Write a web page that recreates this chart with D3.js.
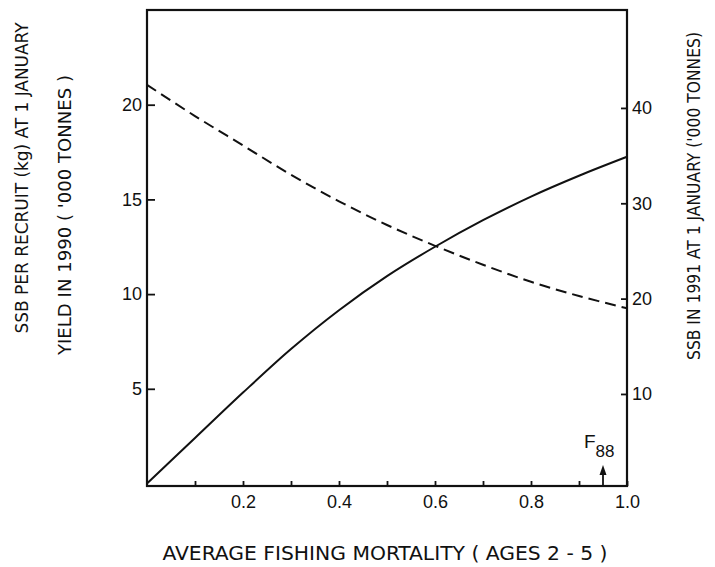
<!DOCTYPE html>
<html>
<head>
<meta charset="utf-8">
<script src="https://cdn.jsdelivr.net/npm/d3@7/dist/d3.min.js"></script>
<style>
  html, body { margin: 0; padding: 0; background: #fff; }
  svg { display: block; }
  text { font-family: "Liberation Sans", Arial, sans-serif; fill: #111; }
  .title { font-family: "Liberation Sans Narrow", "DejaVu Sans Condensed", "Liberation Sans", sans-serif; }
</style>
</head>
<body>
<svg id="chart" width="715" height="567"></svg>
<script>
// Fishing mortality (ages 2-5)
const mortality = [0, 0.1, 0.2, 0.3, 0.4, 0.5, 0.6, 0.7, 0.8, 0.9, 1.0];
// Yield in 1990 ('000 tonnes) — solid line, left axis
const yield1990 = [0, 2.4, 4.8, 7.1, 9.15, 10.95, 12.5, 13.9, 15.15, 16.25, 17.25];
// SSB per recruit (kg) at 1 January — dashed line, left axis
const ssbPerRecruit = [21.05, 19.4, 17.85, 16.3, 14.9, 13.65, 12.55, 11.55, 10.65, 9.9, 9.25];

const leftTicks = [5, 10, 15, 20];
const rightTicks = [10, 20, 30, 40];
const xTicks = [0.1, 0.2, 0.3, 0.4, 0.5, 0.6, 0.7, 0.8, 0.9, 1.0];
const xLabelled = [0.2, 0.4, 0.6, 0.8, 1.0];
const f88 = 0.95;

const leftTitle1 = "SSB PER RECRUIT (kg) AT 1 JANUARY";
const leftTitle2 = "YIELD IN 1990 ( '000 TONNES )";
const rightTitle = "SSB IN 1991 AT 1 JANUARY ('000 TONNES)";
const xTitle = "AVERAGE FISHING MORTALITY ( AGES 2 - 5 )";

const svg = d3.select("#chart");
const plot = { left: 147, right: 627, top: 10, bottom: 486 };

const x = d3.scaleLinear().domain([0, 1]).range([plot.left, plot.right]);
const yL = d3.scaleLinear().domain([0, 25]).range([483.5, plot.top]);
const yR = d3.scaleLinear().domain([0, 50]).range([489.3, 12.6]);

// frame
svg.append("rect")
  .attr("x", plot.left).attr("y", plot.top)
  .attr("width", plot.right - plot.left).attr("height", plot.bottom - plot.top)
  .attr("fill", "none").attr("stroke", "#111").attr("stroke-width", 2.2);

// left axis, ticks pointing inward
const gL = svg.append("g").attr("transform", `translate(${plot.left},0)`)
  .call(d3.axisLeft(yL).tickValues(leftTicks).tickSize(-8).tickPadding(5).tickFormat(d3.format("d")));
// right axis
const gR = svg.append("g").attr("transform", `translate(${plot.right},0)`)
  .call(d3.axisRight(yR).tickValues(rightTicks).tickSize(-6).tickPadding(5).tickFormat(d3.format("d")));
// bottom axis
const gB = svg.append("g").attr("transform", `translate(0,${plot.bottom})`)
  .call(d3.axisBottom(x).tickValues(xTicks).tickSize(-5).tickPadding(9)
    .tickFormat(d => xLabelled.some(v => Math.abs(v - d) < 1e-9) ? d3.format(".1f")(d) : ""));

[gL, gR, gB].forEach(g => {
  g.select(".domain").remove();
  g.selectAll(".tick line").attr("stroke", "#111").attr("stroke-width", 1.8);
  g.selectAll(".tick text").attr("font-size", 18).attr("fill", "#111")
    .style("font-family", '"Liberation Sans", Arial, sans-serif');
});

// curves
const lineOf = (ys) => d3.line()
  .x((d, i) => x(mortality[i]))
  .y(d => yL(d))
  .curve(d3.curveCatmullRom.alpha(0.5))(ys);

svg.append("path").attr("d", lineOf(yield1990))
  .attr("fill", "none").attr("stroke", "#111").attr("stroke-width", 2);
svg.append("path").attr("d", lineOf(ssbPerRecruit))
  .attr("fill", "none").attr("stroke", "#111").attr("stroke-width", 2)
  .attr("stroke-dasharray", "11,6");

// F88 marker
const fx = x(f88);
svg.append("line").attr("x1", fx).attr("x2", fx)
  .attr("y1", plot.bottom).attr("y2", 473)
  .attr("stroke", "#111").attr("stroke-width", 1.8);
svg.append("path")
  .attr("d", `M${fx},465 L${fx - 3.5},475 L${fx + 3.5},475 Z`)
  .attr("fill", "#111");
const fl = svg.append("text").attr("x", fx - 19).attr("y", 448).attr("font-size", 19);
fl.append("tspan").text("F");
fl.append("tspan").attr("dy", 9).attr("font-size", 17).text("88");

// axis titles
svg.append("text").attr("class", "title")
  .attr("transform", "translate(28,178) rotate(-90)")
  .attr("text-anchor", "middle").attr("font-size", 18)
  .attr("textLength", 311).attr("lengthAdjust", "spacingAndGlyphs")
  .text(leftTitle1);
svg.append("text").attr("class", "title")
  .attr("transform", "translate(71,215) rotate(-90)")
  .attr("text-anchor", "middle").attr("font-size", 18)
  .attr("textLength", 280).attr("lengthAdjust", "spacingAndGlyphs")
  .text(leftTitle2);
svg.append("text").attr("class", "title")
  .attr("transform", "translate(700,196) rotate(-90)")
  .attr("text-anchor", "middle").attr("font-size", 18)
  .attr("textLength", 328).attr("lengthAdjust", "spacingAndGlyphs")
  .text(rightTitle);
svg.append("text").attr("class", "title")
  .attr("x", 385).attr("y", 560)
  .attr("text-anchor", "middle").attr("font-size", 19)
  .attr("textLength", 445).attr("lengthAdjust", "spacingAndGlyphs")
  .text(xTitle);
</script>
</body>
</html>
